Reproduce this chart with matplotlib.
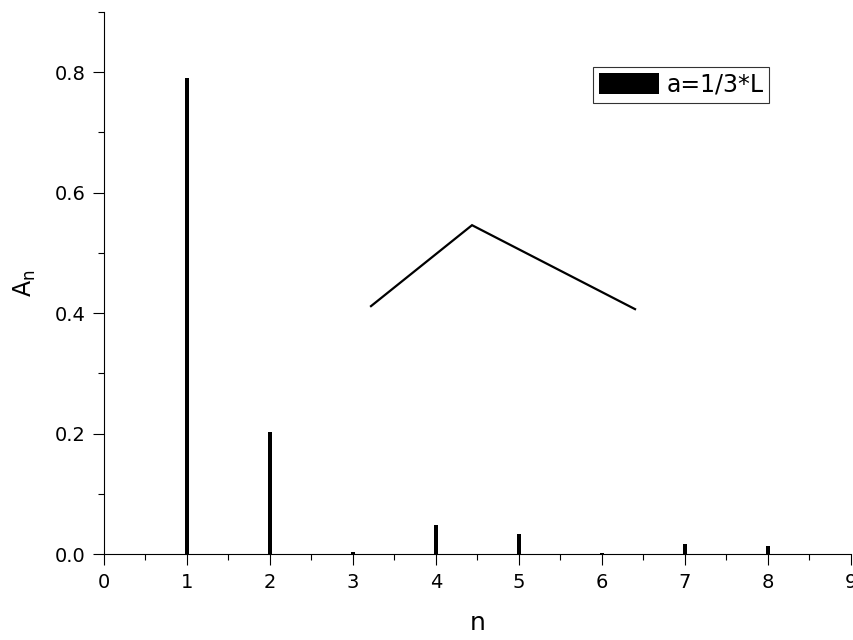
import matplotlib
matplotlib.use("Agg")
import matplotlib.pyplot as plt
from matplotlib.ticker import MultipleLocator

plt.rcParams['font.family'] = ['DejaVu Sans']
plt.rcParams['mathtext.default'] = 'regular'

# Data
n_values = [1, 2, 3, 4, 5, 6, 7, 8]
amplitudes = [0.790, 0.202, 0.003, 0.048, 0.033, 0.001, 0.016, 0.013]
legend_label = "a=1/3*L"
shape_x = [3.217, 4.434, 6.398]
shape_y = [0.4116, 0.546, 0.4066]
y_ticks = [0.0, 0.2, 0.4, 0.6, 0.8]
y_tick_labels = ['0.0', '0.2', '0.4', '0.6', '0.8']

fig = plt.figure(figsize=(8.54, 6.4), dpi=100)
ax = fig.add_axes([104/854, 86/640, 747/854, 542/640])

ax.bar(n_values, amplitudes, width=0.05, color='black', label=legend_label)
ax.plot(shape_x, shape_y, color='black', lw=1.6, solid_joinstyle='miter')

ax.set_xlim(0, 9)
ax.set_ylim(0, 0.9)
ax.xaxis.set_major_locator(MultipleLocator(1))
ax.xaxis.set_minor_locator(MultipleLocator(0.5))
ax.set_yticks(y_ticks)
ax.set_yticklabels(y_tick_labels)
ax.yaxis.set_minor_locator(MultipleLocator(0.1))

for s in ['top', 'right']:
    ax.spines[s].set_visible(False)
for s in ['left', 'bottom']:
    ax.spines[s].set_linewidth(0.8)

ax.tick_params(which='major', direction='out', length=8, width=0.8, labelsize=14)
ax.tick_params(axis='y', which='major', pad=5)
ax.tick_params(axis='x', which='major', pad=6)
ax.tick_params(which='minor', direction='out', length=4, width=0.8)

ax.set_xlabel('n', fontsize=18, labelpad=13)
ax.set_ylabel('A$_n$', fontsize=17, labelpad=12)

leg = ax.legend(loc='upper left', bbox_to_anchor=(0.6546, 0.8985), borderaxespad=0,
                fontsize=17, frameon=True, fancybox=False, shadow=False,
                handlelength=2.55, handleheight=1.0, handletextpad=0.3,
                borderpad=0.25)
leg.get_frame().set_edgecolor('black')
leg.get_frame().set_linewidth(0.8)

fig.savefig('out.png', dpi=100)
